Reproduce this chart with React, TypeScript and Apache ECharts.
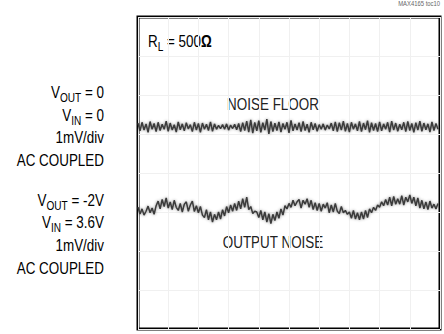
import React, { useEffect, useRef } from "react";
import * as echarts from "echarts";

const noiseFloor = [1.28,1.08,1.30,1.10,1.26,1.04,1.32,1.12,1.27,1.06,
1.30,1.09,1.25,1.12,1.33,1.07,1.28,1.10,1.24,1.05,
1.31,1.11,1.26,1.08,1.29,1.13,1.24,1.06,1.30,1.10,
1.27,1.04,1.28,1.12,1.25,1.09,1.31,1.07,1.26,1.12,
1.22,1.14,1.24,1.12,1.26,1.10,1.23,1.14,1.25,1.11,
1.27,1.06,1.29,1.09,1.33,1.05,1.36,1.02,1.30,1.08,
1.34,1.04,1.29,1.10,1.38,1.00,1.32,1.06,1.28,1.09,
1.31,1.05,1.27,1.12,1.30,1.03,1.35,1.08,1.26,1.10,
1.29,1.06,1.32,1.09,1.25,1.04,1.30,1.11,1.27,1.07,
1.24,1.12,1.26,1.10,1.23,1.13,1.28,1.08,1.31,1.06,
1.29,1.10,1.33,1.07,1.27,1.05,1.30,1.12,1.26,1.08,
1.32,1.06,1.28,1.11,1.34,1.04,1.29,1.09,1.27,1.06,
1.31,1.08,1.26,1.12,1.30,1.05,1.33,1.10,1.28,1.07,
1.25,1.11,1.30,1.06,1.32,1.09,1.27,1.04,1.29,1.10,
1.33,1.07,1.28,1.11,1.26,1.05,1.31,1.09,1.27,1.12];

const outputNoise = [-0.88,-1.05,-0.92,-1.08,-0.98,-0.85,-1.02,-0.90,-1.06,-0.84,
-0.72,-0.92,-0.68,-0.86,-0.64,-0.90,-0.74,-0.94,-0.70,-0.88,
-0.96,-0.78,-1.00,-0.80,-0.74,-0.98,-0.82,-0.72,-0.99,-0.84,
-1.02,-0.86,-1.08,-1.14,-0.94,-1.20,-1.00,-1.26,-1.06,-1.20,
-1.00,-1.18,-0.94,-1.10,-0.86,-1.02,-0.82,-0.98,-0.78,-0.96,
-0.72,-0.92,-0.66,-0.88,-0.62,-0.94,-0.86,-1.04,-0.98,-1.00,
-1.14,-0.96,-1.20,-1.00,-1.26,-1.04,-1.30,-1.06,-1.22,-1.00,
-1.16,-0.92,-1.08,-0.84,-0.92,-0.78,-0.88,-0.70,-0.84,-0.74,
-0.68,-0.90,-0.70,-0.80,-0.66,-0.88,-0.70,-0.94,-0.76,-0.96,
-0.78,-0.98,-0.80,-0.90,-0.76,-1.02,-0.82,-1.00,-0.78,-0.98,
-1.04,-0.86,-1.02,-0.96,-1.06,-1.00,-1.16,-0.96,-1.18,-1.02,
-1.20,-1.00,-1.18,-0.96,-1.14,-0.92,-1.02,-0.88,-0.96,-0.82,
-0.88,-0.74,-0.84,-0.68,-0.82,-0.62,-0.84,-0.60,-0.80,-0.66,
-0.80,-0.58,-0.82,-0.62,-0.74,-0.56,-0.78,-0.62,-0.84,-0.64,
-0.90,-0.70,-0.92,-0.74,-0.94,-0.72,-0.90,-0.80,-0.92,-0.78];

const leftLabels1 = ["{v|V}{s|OUT}{v| = 0}", "{v|V}{s|IN}{v| = 0}", "{v|1mV/div}", "{v|AC COUPLED}"];
const leftLabels2 = ["{v|V}{s|OUT}{v| = -2V}", "{v|V}{s|IN}{v| = 3.6V}", "{v|1mV/div}", "{v|AC COUPLED}"];

const FONT = "'Liberation Sans', Arial, sans-serif";
const SX = 0.84;

export default function App() {
  const ref = useRef<HTMLDivElement>(null);
  useEffect(() => {
    if (!ref.current) return;
    const chart = echarts.init(ref.current, undefined, { renderer: "svg" });
    const rich = {
      v: { fontSize: 16, fontFamily: FONT, color: "#222", lineHeight: 18, verticalAlign: "bottom" },
      s: { fontSize: 12, fontFamily: FONT, color: "#222", lineHeight: 14, verticalAlign: "bottom", padding: [0, 0, -3, 0] },
      o: { fontSize: 16, fontFamily: FONT, color: "#222", fontWeight: "bold", lineHeight: 18, verticalAlign: "bottom" },
    };
    const ys1 = [92, 115, 137, 160];
    const ys2 = [200, 222, 245, 268];
    const labelGraphics: any[] = [];
    const addLabel = (t: string, y: number) =>
      labelGraphics.push({
        type: "text", x: 104, y, scaleX: SX,
        style: { text: t, rich, align: "right", verticalAlign: "middle" },
      });
    leftLabels1.forEach((t, i) => addLabel(t, ys1[i]));
    leftLabels2.forEach((t, i) => addLabel(t, ys2[i]));
    chart.setOption({
      animation: false,
      grid: { left: 138, top: 17, width: 302, height: 312, show: true, borderColor: "#000", borderWidth: 3, backgroundColor: "#fff" },
      xAxis: {
        type: "value", min: 0, max: 150, interval: 15,
        axisLine: { show: false }, axisTick: { show: false }, axisLabel: { show: false },
        splitLine: { show: true, lineStyle: { color: "#f0f0f0", width: 1 } },
      },
      yAxis: {
        type: "value", min: -4, max: 4, interval: 1,
        axisLine: { show: false }, axisTick: { show: false }, axisLabel: { show: false },
        splitLine: { show: true, lineStyle: { color: "#f0f0f0", width: 1 } },
      },
      series: [
        {
          type: "line", symbol: "none", data: noiseFloor.map((v, i) => [i, v]),
          lineStyle: { color: "#3a3a3a", width: 1.5, shadowColor: "rgba(0,0,0,0.45)", shadowBlur: 3 },
        },
        {
          type: "line", symbol: "none", data: outputNoise.map((v, i) => [i, v]),
          lineStyle: { color: "#3a3a3a", width: 1.5, shadowColor: "rgba(0,0,0,0.45)", shadowBlur: 3 },
        },
      ],
      graphic: [
        ...labelGraphics,
        { type: "text", x: 148, y: 41, scaleX: SX, style: { text: "{v|R}{s|L}{v| = 500}{o|Ω}", rich, verticalAlign: "middle" } },
        { type: "text", x: 273, y: 105, scaleX: SX, style: { text: "NOISE FLOOR", fontSize: 16, fontFamily: FONT, fill: "#222", align: "center", verticalAlign: "middle" } },
        { type: "text", x: 273, y: 243, scaleX: SX, style: { text: "OUTPUT NOISE", fontSize: 16, fontFamily: FONT, fill: "#222", align: "center", verticalAlign: "middle" } },
        { type: "text", x: 440, y: 0, scaleX: SX, style: { text: "MAX4165 toc10", fontSize: 7, fontFamily: FONT, fill: "#666", align: "right", verticalAlign: "top" } },
      ],
    });
    return () => chart.dispose();
  }, []);
  return <div ref={ref} style={{ width: 444, height: 334, position: "absolute", left: 0, top: 0 }} />;
}
